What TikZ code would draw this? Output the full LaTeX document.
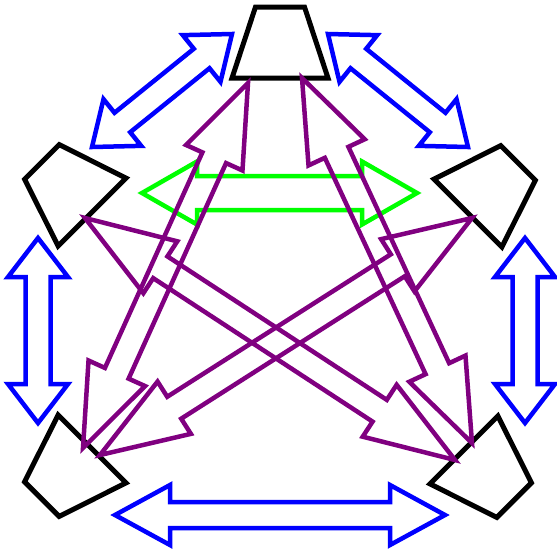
\documentclass[tikz,border=0pt]{standalone}
\usepackage{xcolor}
\usepackage{tikz}
\usetikzlibrary{shapes, calc}

\definecolor{linkblue}{RGB}{0,0,255}
\definecolor{linkgreen}{RGB}{0,255,0}
\definecolor{linkpurple}{RGB}{128,0,128}

% hollow double arrow: style, from, to, head length, head half width, shaft half width
\newcommand{\fatarrow}[6]{%
  \coordinate (fa-h) at ($(#2)!#4!(#3)$);
  \coordinate (fa-k) at ($(#3)!#4!(#2)$);
  \draw[#1] (#2) -- ($(fa-h)!#5!90:(#3)$) -- ($(fa-h)!#6!90:(#3)$)
    -- ($(fa-k)!#6!-90:(#2)$) -- ($(fa-k)!#5!-90:(#2)$) -- (#3)
    -- ($(fa-k)!#5!90:(#2)$) -- ($(fa-k)!#6!90:(#2)$)
    -- ($(fa-h)!#6!-90:(#3)$) -- ($(fa-h)!#5!-90:(#3)$) -- cycle;
}

\tikzset{pics/trap/.style={code={
    \draw[line width=5pt, line join=miter] (-48,35.5) -- (48,35.5) -- (24.5,-35.5) -- (-24.5,-35.5) -- cycle;}}}

\begin{document}
\begin{tikzpicture}[x=1pt, y=-1pt,
        blueway/.style={draw=linkblue, line width=4.5pt, line join=miter},
        greenway/.style={draw=linkgreen, line width=4.5pt, line join=miter},
        purpleway/.style={draw=linkpurple, line width=4.5pt, line join=miter}]
        \useasboundingbox (0,0) rectangle (557,550);

        \node (top) at (280,42.5) {};
        \node (upleft) at (67,187) {};
        \node (upright) at (493,188) {};
        \node (lowleft) at (67,474) {};
        \node (lowright) at (489,475) {};
        \pic at (top) {trap};
        \pic[rotate=45] at (upleft) {trap};
        \pic[rotate=-45] at (upright) {trap};
        \pic[rotate=135] at (lowleft) {trap};
        \pic[rotate=-135] at (lowright) {trap};

        \coordinate (top-w) at (232,34);
        \coordinate (top-e) at (328,34);
        \coordinate (top-sw) at (248,83);
        \coordinate (top-se) at (302,78);
        \coordinate (upleft-n) at (92,147);
        \coordinate (upleft-s) at (38,238);
        \coordinate (upleft-e) at (142,193);
        \coordinate (upleft-se) at (85,218);
        \coordinate (upright-n) at (468,147);
        \coordinate (upright-s) at (525,238);
        \coordinate (upright-w) at (417,193);
        \coordinate (upright-sw) at (472,218);
        \coordinate (lowleft-n) at (38,423);
        \coordinate (lowleft-e) at (115,515);
        \coordinate (lowleft-ne) at (83,448);
        \coordinate (lowleft-nee) at (100,455);
        \coordinate (lowright-n) at (525,423);
        \coordinate (lowright-w) at (445,515);
        \coordinate (lowright-nw) at (472,443);
        \coordinate (lowright-nww) at (455,460);

        \fatarrow{greenway}{upleft-e}{upright-w}{55pt}{31.5pt}{17pt}

        \fatarrow{blueway}{upleft-n}{top-w}{39pt}{30pt}{12.5pt}
        \fatarrow{blueway}{top-e}{upright-n}{39pt}{30pt}{12.5pt}
        \fatarrow{blueway}{upleft-s}{lowleft-n}{39pt}{30pt}{12.5pt}
        \fatarrow{blueway}{upright-s}{lowright-n}{39pt}{30pt}{12.5pt}
        \fatarrow{blueway}{lowleft-e}{lowright-w}{55pt}{30pt}{13pt}

        \fatarrow{purpleway}{top-sw}{lowleft-ne}{82pt}{31pt}{13pt}
        \fatarrow{purpleway}{top-se}{lowright-nw}{82pt}{31pt}{13pt}
        \fatarrow{purpleway}{upleft-se}{lowright-nww}{90pt}{31pt}{13pt}
        \fatarrow{purpleway}{upright-sw}{lowleft-nee}{88pt}{31pt}{13pt}
    \end{tikzpicture}
\end{document}
